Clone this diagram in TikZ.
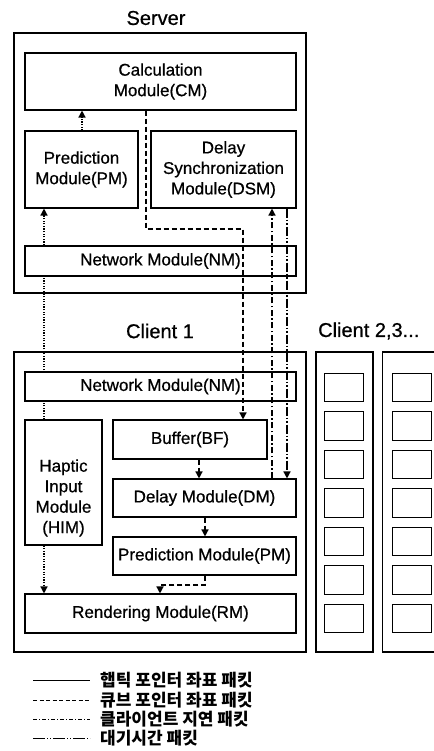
\documentclass[tikz,border=0pt]{standalone}
\usepackage{fontspec}
\setmainfont{Liberation Sans}[FakeBold=0.7]
\newfontfamily\kr{Noto Sans CJK KR}
\usetikzlibrary{arrows.meta}
\pgfdeclarelayer{bg}
\pgfdeclarelayer{paper}
\pgfsetlayers{paper,bg,main}
\begin{document}
\begin{tikzpicture}[x=1pt,y=-1pt,
  outer/.style={draw, line width=1.1pt, inner sep=0pt},
  mod/.style={draw, fill=white, line width=1.1pt, inner sep=0pt, align=center,
    font=\fontsize{17}{20.5}\selectfont},
  txt/.style={inner sep=0pt, align=center, font=\fontsize{17}{20.5}\selectfont},
  ttl/.style={inner sep=0pt, font=\fontsize{20}{24}\selectfont},
  small/.style={draw, line width=1pt, inner sep=0pt, minimum width=39pt, minimum height=28.5pt},
  tip/.style={-{Triangle[width=7pt,length=7pt]}},
  dotline/.style={line width=1.4pt, dash pattern=on 1.3pt off 1.3pt},
  dashline/.style={line width=1.4pt, dash pattern=on 5pt off 3pt},
  dashdot/.style={line width=1.4pt, dash pattern=on 6pt off 2.5pt on 1.5pt off 2.5pt},
  dashdotdot/.style={line width=1.4pt, dash pattern=on 9pt off 2pt on 1.5pt off 2pt on 1.5pt off 2pt},
  legline/.style={line width=0.9pt},
  legtxt/.style={anchor=west, inner sep=0pt, font=\kr\bfseries\fontsize{17}{20}\selectfont}
]
\useasboundingbox (0,0) rectangle (433,751);
\begin{pgfonlayer}{paper}
\fill[white] (0,0) rectangle (433,751);
\end{pgfonlayer}

% titles
\node[ttl] (tServer) at (156,18) {Server};
\node[ttl] (tClient1) at (160,331) {Client 1};
\node[ttl, anchor=west] (tClient23) at (318,331) {Client 2,3...};

% outer boxes
\node[outer, minimum width=292pt, minimum height=260pt] (server) at (160,163) {};
\node[outer, minimum width=292pt, minimum height=300pt] (client1) at (160,502) {};
\node[outer, minimum width=57pt, minimum height=300pt] (client2) at (344.5,502) {};
\node[outer, minimum width=52pt, minimum height=300pt] (client3) at (408.5,502) {};
\foreach \i in {0,...,6} {
  \node[small] (c2b\i) at (343.5,{387.5+38.5*\i}) {};
  \node[small] (c3b\i) at (411.5,{387.5+38.5*\i}) {};
}

% server modules
\node[mod, minimum width=271pt, minimum height=57pt] (CM) at (160.5,81.5) {Calculation\\Module(CM)};
\node[mod, minimum width=113pt, minimum height=77pt] (sPM) at (81.5,169.5) {Prediction\\Module(PM)};
\node[mod, minimum width=145pt, minimum height=77pt] (DSM) at (223.5,169.5) {Delay\\Synchronization\\Module(DSM)};
\node[mod, minimum width=271pt, minimum height=30pt] (sNM) at (160.5,261) {Network Module(NM)};

% client 1 modules
\node[mod, minimum width=271pt, minimum height=29pt] (cNM) at (160.5,386.5) {Network Module(NM)};
\node[mod, minimum width=77pt, minimum height=125pt] (HIM) at (63.5,482.5) {};
\node[txt] (HIMtxt) at (63.5,498) {Haptic\\Input\\Module\\(HIM)};
\node[mod, minimum width=154pt, minimum height=39pt] (BF) at (190,439.5) {Buffer(BF)};
\node[mod, minimum width=183pt, minimum height=38pt] (DM) at (204.5,498) {Delay Module(DM)};
\node[mod, minimum width=183pt, minimum height=38pt] (cPM) at (204.5,556) {Prediction Module(PM)};
\node[mod, minimum width=271pt, minimum height=39pt] (RM) at (160.5,613.5) {Rendering Module(RM)};

% helper x positions
\coordinate (x44) at (44,0);
\coordinate (x82) at (82,0);
\coordinate (x146) at (146,0);
\coordinate (x243) at (243,0);
\coordinate (x272) at (272,0);
\coordinate (x287) at (287,0);
\coordinate (x199) at (199,0);
\coordinate (x205) at (205,0);
\coordinate (x160) at (160,0);
\coordinate (y229) at (0,229);
\coordinate (y585) at (0,585);

% connectors
\begin{pgfonlayer}{bg}
\draw[dotline, tip] (x44 |- HIM.north) -- (x44 |- sPM.south);
\end{pgfonlayer}
\draw[dotline, tip] (x82 |- sPM.north) -- (x82 |- CM.south);
\draw[dashline, tip] (x146 |- CM.south) -- (x146 |- y229) -- (x243 |- y229) -- (x243 |- BF.north);
\draw[dashdot, tip] (x272 |- DM.north) -- (x272 |- DSM.south);
\draw[dashdotdot, tip] (x287 |- DSM.south) -- (x287 |- DM.north);
\draw[dashline, tip] (x199 |- BF.south) -- (x199 |- DM.north);
\draw[dashline, tip] (x205 |- DM.south) -- (x205 |- cPM.north);
\draw[dashline, tip] (x205 |- cPM.south) -- (x205 |- y585) -- (x160 |- y585) -- (x160 |- RM.north);
\draw[dotline, tip] (x44 |- HIM.south) -- (x44 |- RM.north);

% legend
\coordinate (L1a) at (33,680); \coordinate (L1b) at (90,680);
\coordinate (L2a) at (33,700); \coordinate (L2b) at (90,700);
\coordinate (L3a) at (33,719); \coordinate (L3b) at (90,719);
\coordinate (L4a) at (33,738); \coordinate (L4b) at (90,738);
\draw[legline] (L1a) -- (L1b);
\draw[legline, dash pattern=on 4pt off 2.5pt] (L2a) -- (L2b);
\draw[legline, dash pattern=on 4pt off 2pt on 1pt off 2pt] (L3a) -- (L3b);
\draw[legline, dash pattern=on 12pt off 2pt on 1pt off 2pt on 1pt off 2pt] (L4a) -- (L4b);
\node[legtxt] (L1t) at (100,680) {햅틱 포인터 좌표 패킷};
\node[legtxt] (L2t) at (100,700) {큐브 포인터 좌표 패킷};
\node[legtxt] (L3t) at (100,719) {클라이언트 지연 패킷};
\node[legtxt] (L4t) at (100,738) {대기시간 패킷};
\end{tikzpicture}
\end{document}
